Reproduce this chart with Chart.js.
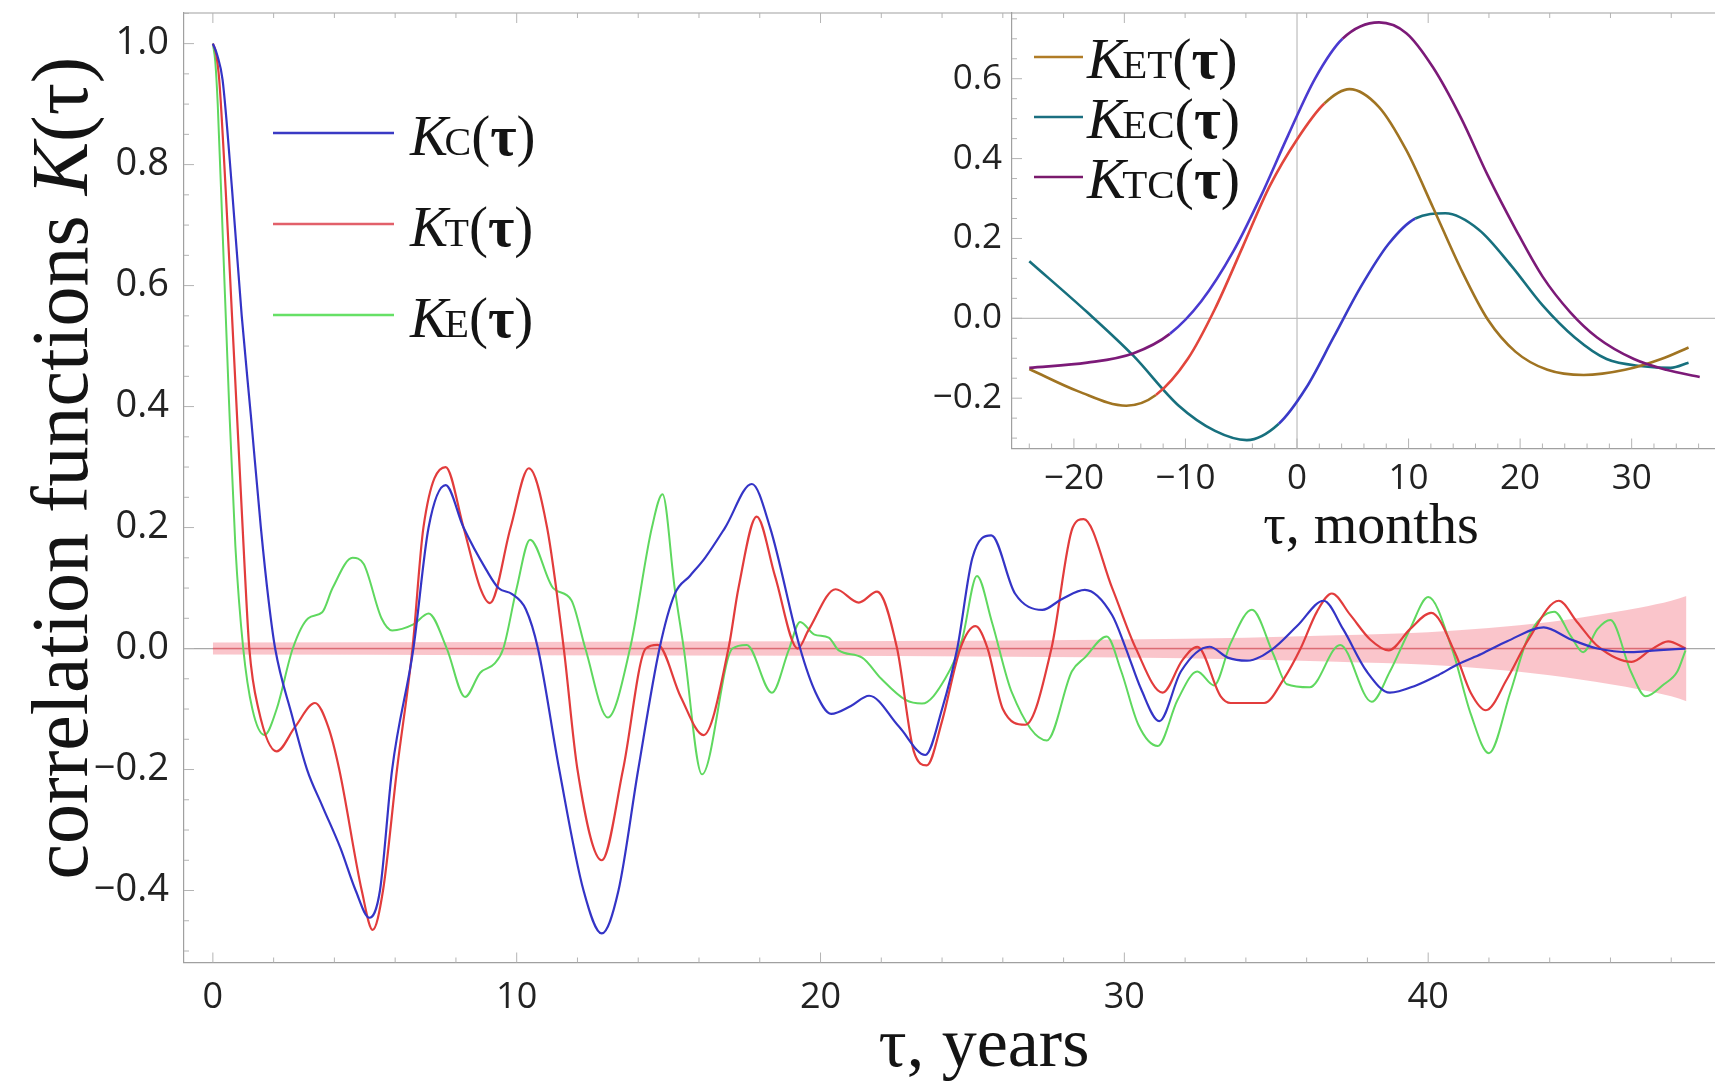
<!DOCTYPE html>
<html>
<head>
<meta charset="utf-8">
<script src="https://cdn.jsdelivr.net/npm/chart.js@4.4.1/dist/chart.umd.min.js"></script>
<style>
  html, body { margin: 0; padding: 0; background: #fff; }
  #wrap { position: relative; width: 1715px; height: 1089px; overflow: hidden; }
  #main { position: absolute; left: 0; top: 0; }
  #inset { position: absolute; left: 900px; top: 0; }
</style>
</head>
<body>
<div id="wrap">
  <canvas id="main" width="1715" height="1089"></canvas>
  <canvas id="inset" width="815" height="560"></canvas>
</div>
<script>
// -----------------------------------
// Main plot: [tau in years, K(tau)]
const curveC = [[0,1.0],[0.15,0.98],[0.32,0.94],[0.63,0.76],[0.95,0.55],[1.26,0.38],[1.58,0.2],[1.84,0.077],[2.05,0],[2.6,-0.11],[3.1,-0.2],[3.6,-0.26],[4.2,-0.33],[4.7,-0.4],[5.15,-0.445],[5.5,-0.4],[5.9,-0.2],[6.6,0],[7.1,0.2],[7.66,0.27],[8.25,0.2],[9.0,0.13],[9.4,0.1],[9.85,0.09],[10.3,0.065],[10.7,0],[11.4,-0.2],[12.2,-0.4],[12.8,-0.471],[13.35,-0.4],[14.0,-0.2],[14.7,0],[15.2,0.09],[15.7,0.12],[16.2,0.15],[16.86,0.2],[17.74,0.272],[18.34,0.2],[19.33,0],[19.84,-0.073],[20.35,-0.108],[21.0,-0.095],[21.6,-0.078],[22.58,-0.129],[23.45,-0.176],[24.0,-0.1],[24.5,0],[25.0,0.15],[25.62,0.187],[26.4,0.091],[27.3,0.064],[27.95,0.082],[28.7,0.097],[29.6,0.055],[30.05,0],[30.55,-0.067],[31.15,-0.12],[31.86,-0.038],[32.8,0.003],[33.4,-0.015],[34.04,-0.02],[34.9,0],[35.7,0.038],[36.56,0.079],[37.2,0.032],[37.98,-0.038],[38.74,-0.073],[39.6,-0.061],[40.33,-0.044],[40.98,-0.026],[41.75,-0.009],[42.6,0.012],[43.8,0.035],[44.7,0.015],[45.57,0],[46.67,-0.006],[47.5,-0.003],[48.47,0]];

const curveT = [[0,1.0],[0.1,0.985],[0.21,0.94],[0.42,0.76],[0.63,0.55],[0.84,0.34],[1.05,0.13],[1.2,0],[1.5,-0.1],[2.1,-0.17],[2.7,-0.13],[3.36,-0.09],[3.8,-0.13],[4.16,-0.2],[4.9,-0.4],[5.26,-0.465],[5.6,-0.4],[6.06,-0.2],[6.57,0],[6.93,0.2],[7.66,0.3],[8.25,0.2],[8.8,0.1],[9.12,0.075],[9.8,0.2],[10.4,0.298],[11.0,0.2],[11.55,0],[12.0,-0.2],[12.8,-0.35],[13.5,-0.2],[14.25,0],[14.64,0.006],[15.4,-0.08],[16.15,-0.143],[16.97,0],[17.3,0.1],[17.9,0.218],[18.5,0.12],[19.25,0],[19.6,0.03],[20.5,0.098],[21.26,0.076],[21.86,0.094],[22.52,0],[23.07,-0.17],[23.5,-0.193],[24.0,-0.12],[24.6,0],[25.1,0.037],[25.5,0],[26.0,-0.1],[26.74,-0.126],[27.6,0],[28.3,0.2],[28.66,0.214],[29.6,0.1],[30.38,0],[31.26,-0.073],[31.9,-0.02],[32.4,0.003],[33.17,-0.079],[33.5,-0.09],[34.6,-0.09],[35.25,-0.05],[35.8,0],[36.34,0.061],[36.83,0.091],[37.43,0.056],[38.09,0.015],[38.7,-0.003],[39.4,0.032],[40.1,0.059],[40.9,-0.009],[41.4,-0.073],[41.9,-0.102],[42.6,-0.05],[43.3,0.015],[44.3,0.079],[44.9,0.044],[45.6,0.003],[46.7,-0.022],[47.3,-0.003],[47.9,0.012],[48.47,0]];

const curveE = [[0,1.0],[0.08,0.97],[0.16,0.9],[0.32,0.69],[0.53,0.41],[0.74,0.17],[1.0,0],[1.3,-0.1],[1.7,-0.143],[2.1,-0.1],[2.63,0],[3.14,0.05],[3.6,0.06],[3.94,0.1],[4.6,0.15],[4.96,0.14],[5.55,0.05],[5.9,0.03],[6.6,0.04],[7.1,0.058],[7.7,0],[8.3,-0.08],[8.8,-0.04],[9.27,-0.025],[9.56,0],[10.0,0.1],[10.44,0.18],[11.2,0.1],[11.8,0.08],[12.26,0],[13.0,-0.114],[13.73,0],[14.45,0.2],[14.8,0.255],[15.2,0.1],[15.5,0],[16.1,-0.208],[17.1,0],[17.57,0.006],[18.4,-0.073],[18.95,-0.003],[19.33,0.044],[19.8,0.023],[20.27,0.018],[20.6,-0.003],[21.37,-0.015],[22.0,-0.05],[22.8,-0.085],[23.34,-0.091],[24.1,-0.05],[24.66,0.015],[25.15,0.12],[25.64,0.044],[26.3,-0.073],[27.45,-0.152],[28.27,-0.038],[28.7,-0.015],[29.42,0.02],[29.9,-0.038],[30.46,-0.126],[31.1,-0.161],[31.75,-0.085],[32.4,-0.038],[32.95,-0.061],[33.5,0.009],[34.2,0.064],[34.9,-0.009],[35.35,-0.059],[36.1,-0.064],[37.1,0.006],[38.14,-0.088],[38.74,-0.038],[39.4,0.032],[40.0,0.085],[40.8,-0.003],[41.4,-0.108],[42.0,-0.173],[42.7,-0.073],[43.3,0.02],[44.15,0.061],[44.7,0.02],[45.1,-0.006],[45.57,0.032],[46.0,0.047],[46.67,-0.038],[47.16,-0.079],[47.76,-0.059],[48.2,-0.038],[48.47,-0.003]];

// confidence band round zero: [tau, half width]
const band = [[0,0.010],[10,0.011],[20,0.012],[25,0.013],[30,0.015],[34,0.018],[37,0.022],[40,0.027],[42,0.034],[44,0.044],[45,0.051],[46,0.059],[47,0.068],[48,0.079],[48.5,0.087]];

const mainXTicks = [0, 10, 20, 30, 40];
const mainYTicks = [-0.4, -0.2, 0, 0.2, 0.4, 0.6, 0.8, 1.0];
const mainLabels = ["C", "T", "E"];

// -----------------------------------
// Inset: [tau in months, K(tau)]
const curveET = [[-24,-0.127],[-19.6,-0.183],[-15.3,-0.219],[-12.65,-0.192],[-9.8,-0.102],[-7.35,0.024],[-4.9,0.177],[-2.45,0.331],[0,0.448],[2.45,0.538],[4.7,0.574],[7.35,0.529],[9.8,0.421],[12.2,0.277],[14.7,0.123],[17.1,-0.003],[19.6,-0.084],[22.45,-0.129],[25.7,-0.142],[29.4,-0.129],[32.65,-0.102],[35.1,-0.073]];
const curveEC = [[-24,0.143],[-18.8,0.015],[-14.7,-0.093],[-10.6,-0.219],[-7.35,-0.282],[-4.5,-0.305],[-1.63,-0.264],[0.82,-0.174],[3.27,-0.048],[5.7,0.078],[8.2,0.186],[10.6,0.25],[13.3,0.263],[16.3,0.222],[19.2,0.132],[22.0,0.033],[24.9,-0.048],[27.75,-0.102],[31.0,-0.12],[33.5,-0.124],[35.1,-0.111]];
const curveTC = [[-24,-0.124],[-18.8,-0.111],[-14.7,-0.088],[-11.4,-0.039],[-8.6,0.042],[-5.7,0.168],[-3.27,0.304],[-0.82,0.457],[1.63,0.601],[4.08,0.7],[7.35,0.741],[9.8,0.714],[12.2,0.628],[14.7,0.502],[17.1,0.358],[19.6,0.223],[22.0,0.105],[24.5,0.015],[26.9,-0.048],[30.2,-0.102],[33.1,-0.129],[36.1,-0.147]];

const insetXTicks = [-20, -10, 0, 10, 20, 30];
const insetYTicks = [-0.2, 0, 0.2, 0.4, 0.6];
const insetLabels = ["ET", "EC", "TC"];

// -----------------------------------
const SERIF = '"Liberation Serif", "DejaVu Serif", serif';
const SANS = '"Open Sans", "DejaVu Sans", sans-serif';

function pts(arr) {
  return arr.map((p) => ({ x: p[0], y: p[1] }));
}
function fmt(v) {
  return v.toFixed(1).replace("-", "\u2212");
}
function fmtInt(v) {
  return String(v).replace("-", "\u2212");
}
// fixed axis box, no extra padding for the end labels
function fixBox(w, h) {
  return (s) => {
    if (w) s.width = w;
    if (h) s.height = h;
    s.paddingTop = 0;
    s.paddingBottom = 0;
    s.paddingLeft = 0;
    s.paddingRight = 0;
  };
}

// K with upright small subscript letters, then (τ)
function drawK(ctx, x, y, sub, size) {
  ctx.textAlign = "left";
  ctx.textBaseline = "alphabetic";
  ctx.fillStyle = "#141414";
  ctx.font = "italic " + size + "px " + SERIF;
  ctx.fillText("K", x, y);
  x += ctx.measureText("K").width - size * 0.06;
  ctx.font = Math.round(size * 0.7) + "px " + SERIF;
  ctx.fillText(sub, x, y);
  x += ctx.measureText(sub).width;
  ctx.font = size + "px " + SERIF;
  ctx.fillText("(", x, y);
  x += ctx.measureText("(").width;
  ctx.font = "bold " + size + "px " + SERIF;
  ctx.fillText("\u03c4", x, y);
  x += ctx.measureText("\u03c4").width;
  ctx.font = size + "px " + SERIF;
  ctx.fillText(")", x, y);
}

// inward frame ticks
function drawTicks(ctx, scale, area, side, major, minorStep, from, to) {
  ctx.save();
  ctx.strokeStyle = "#b4b4b4";
  ctx.lineWidth = 1;
  ctx.beginPath();
  for (let v = from; v <= to + 1e-9; v += minorStep) {
    let isMajor = major.some((m) => Math.abs(m - v) < 1e-6);
    let len = isMajor ? 10 : 5;
    let p = scale.getPixelForValue(v);
    if (side === "left") { ctx.moveTo(area.left, p); ctx.lineTo(area.left + len, p); }
    if (side === "bottom") { ctx.moveTo(p, area.bottom); ctx.lineTo(p, area.bottom - len); }
    if (side === "top") { ctx.moveTo(p, area.top); ctx.lineTo(p, area.top + len); }
  }
  ctx.stroke();
  ctx.restore();
}

// -----------------------------------
// Main chart
const mainDecor = {
  id: "mainDecor",
  beforeDatasetsDraw(chart) {
    let ctx = chart.ctx;
    let a = chart.chartArea;
    let y0 = chart.scales.y.getPixelForValue(0);
    ctx.save();
    ctx.strokeStyle = "#a8a8a8";
    ctx.lineWidth = 1.2;
    ctx.beginPath();
    ctx.moveTo(a.left, y0);
    ctx.lineTo(a.right, y0);
    ctx.stroke();
    ctx.restore();
  },
  afterDraw(chart) {
    let ctx = chart.ctx;
    let a = chart.chartArea;
    let sx = chart.scales.x;
    let sy = chart.scales.y;
    // top frame line
    ctx.save();
    ctx.strokeStyle = "#a0a0a0";
    ctx.lineWidth = 1.2;
    ctx.beginPath();
    ctx.moveTo(a.left, a.top);
    ctx.lineTo(a.right, a.top);
    ctx.stroke();
    ctx.restore();
    drawTicks(ctx, sy, a, "left", mainYTicks, 0.05, -0.5, 1.05);
    drawTicks(ctx, sx, a, "bottom", mainXTicks, 2, 0, 48);
    drawTicks(ctx, sx, a, "top", mainXTicks, 2, 0, 48);

    // legend
    let colors = ["#3a3ac4", "#e2606a", "#66e066"];
    let ys = [133, 224, 315];
    for (let i = 0; i < mainLabels.length; i++) {
      ctx.save();
      ctx.strokeStyle = colors[i];
      ctx.lineWidth = 2.4;
      ctx.beginPath();
      ctx.moveTo(273, ys[i]);
      ctx.lineTo(394, ys[i]);
      ctx.stroke();
      ctx.restore();
      drawK(ctx, 410, ys[i] + 22, mainLabels[i], 57);
    }

    // axis titles
    ctx.save();
    ctx.fillStyle = "#141414";
    ctx.textBaseline = "alphabetic";
    ctx.textAlign = "center";
    ctx.font = "70px " + SERIF;
    ctx.fillText("\u03c4, years", 984, 1066);
    ctx.restore();

    ctx.save();
    ctx.translate(87, 468);
    ctx.rotate(-Math.PI / 2);
    ctx.fillStyle = "#141414";
    ctx.textBaseline = "alphabetic";
    ctx.textAlign = "left";
    let size = 80;
    let parts = [
      ["correlation functions ", size + "px " + SERIF],
      ["K", "italic " + size + "px " + SERIF],
      ["(\u03c4)", size + "px " + SERIF],
    ];
    let total = 0;
    parts.forEach((p) => { ctx.font = p[1]; total += ctx.measureText(p[0]).width; });
    let x = -total / 2;
    parts.forEach((p) => { ctx.font = p[1]; ctx.fillText(p[0], x, 0); x += ctx.measureText(p[0]).width; });
    ctx.restore();
  },
};

new Chart(document.getElementById("main"), {
  type: "line",
  data: {
    datasets: [
      { data: pts(curveC), borderColor: "#3434c6", borderWidth: 2.2 },
      { data: pts(curveT), borderColor: "#e23c3c", borderWidth: 2.2 },
      { data: pts(curveE), borderColor: "#5fd85f", borderWidth: 2.0 },
      { data: band.map((p) => ({ x: p[0], y: 0 })), borderColor: "rgba(222,90,100,0.75)", borderWidth: 1.5 },
      { data: band.map((p) => ({ x: p[0], y: p[1] })), borderColor: "rgba(0,0,0,0)", borderWidth: 0, fill: false },
      { data: band.map((p) => ({ x: p[0], y: -p[1] })), borderColor: "rgba(0,0,0,0)", borderWidth: 0, fill: "-1", backgroundColor: "rgba(246,150,160,0.55)" },
    ],
  },
  options: {
    responsive: false,
    devicePixelRatio: 1,
    animation: false,
    layout: { padding: { top: 13, right: 0, left: 0, bottom: 0 } },
    elements: { point: { radius: 0 }, line: { cubicInterpolationMode: "monotone" } },
    plugins: { legend: { display: false }, tooltip: { enabled: false } },
    scales: {
      x: {
        type: "linear",
        min: -0.95,
        max: 49.44,
        grid: { display: false, drawTicks: false },
        border: { display: true, color: "#a0a0a0", width: 1.2 },
        afterBuildTicks: (s) => { s.ticks = mainXTicks.map((v) => ({ value: v })); },
        afterFit: fixBox(0, 126.5),
        ticks: { font: { family: SANS, size: 36 }, color: "#222", padding: 14, maxRotation: 0, callback: (v) => fmtInt(v) },
      },
      y: {
        min: -0.519,
        max: 1.0506,
        grid: { display: false, drawTicks: false },
        border: { display: true, color: "#a0a0a0", width: 1.2 },
        afterBuildTicks: (s) => { s.ticks = mainYTicks.map((v) => ({ value: v })); },
        afterFit: fixBox(184, 0),
        ticks: { font: { family: SANS, size: 38 }, color: "#222", padding: 15, callback: (v) => fmt(v) },
      },
    },
  },
  plugins: [mainDecor],
});

// -----------------------------------
// Inset chart: steep rises take the "rising" colour
function slopeColor(up, down) {
  return (c) => ((c.p1.parsed.y - c.p0.parsed.y) / (c.p1.parsed.x - c.p0.parsed.x) > 0.02 ? up : down);
}

const insetDecor = {
  id: "insetDecor",
  beforeDatasetsDraw(chart) {
    let ctx = chart.ctx;
    let a = chart.chartArea;
    let x0 = chart.scales.x.getPixelForValue(0);
    let y0 = chart.scales.y.getPixelForValue(0);
    ctx.save();
    ctx.strokeStyle = "#bdbdbd";
    ctx.lineWidth = 1.2;
    ctx.beginPath();
    ctx.moveTo(a.left, y0);
    ctx.lineTo(a.right, y0);
    ctx.moveTo(x0, a.top);
    ctx.lineTo(x0, a.bottom);
    ctx.stroke();
    ctx.restore();
  },
  afterDraw(chart) {
    let ctx = chart.ctx;
    let a = chart.chartArea;
    drawTicks(ctx, chart.scales.y, a, "left", insetYTicks, 0.05, -0.3, 0.75);
    drawTicks(ctx, chart.scales.x, a, "bottom", insetXTicks, 2, -24, 36);

    let colors = ["#b07c26", "#1b6f80", "#7a1a6c"];
    let ys = [57, 117, 177];
    for (let i = 0; i < insetLabels.length; i++) {
      ctx.save();
      ctx.strokeStyle = colors[i];
      ctx.lineWidth = 2.6;
      ctx.beginPath();
      ctx.moveTo(134, ys[i]);
      ctx.lineTo(183, ys[i]);
      ctx.stroke();
      ctx.restore();
      drawK(ctx, 187, ys[i] + 21, insetLabels[i], 58);
    }

    ctx.save();
    ctx.fillStyle = "#141414";
    ctx.textBaseline = "alphabetic";
    ctx.textAlign = "center";
    ctx.font = "56px " + SERIF;
    ctx.fillText("\u03c4, months", 471, 543);
    ctx.restore();
  },
};

new Chart(document.getElementById("inset"), {
  type: "line",
  data: {
    datasets: [
      { data: pts(curveTC), borderWidth: 2.6, segment: { borderColor: slopeColor("#4a3ad0", "#7c1a78") }, borderColor: "#7c1a78" },
      { data: pts(curveET), borderWidth: 2.6, segment: { borderColor: slopeColor("#e2463c", "#a07422") }, borderColor: "#a07422" },
      { data: pts(curveEC), borderWidth: 2.6, segment: { borderColor: slopeColor("#3a3ac8", "#17707e") }, borderColor: "#17707e" },
    ],
  },
  options: {
    responsive: false,
    devicePixelRatio: 1,
    animation: false,
    layout: { padding: { top: 13, right: 0, left: 0, bottom: 0 } },
    elements: { point: { radius: 0 }, line: { cubicInterpolationMode: "monotone" } },
    plugins: { legend: { display: false }, tooltip: { enabled: false } },
    scales: {
      x: {
        type: "linear",
        min: -25.55,
        max: 37.47,
        grid: { display: false, drawTicks: false },
        border: { display: true, color: "#a0a0a0", width: 1.2 },
        afterBuildTicks: (s) => { s.ticks = insetXTicks.map((v) => ({ value: v })); },
        afterFit: fixBox(0, 111.5),
        ticks: { font: { family: SANS, size: 35 }, color: "#222", padding: 10, maxRotation: 0, callback: (v) => fmtInt(v) },
      },
      y: {
        min: -0.326,
        max: 0.7646,
        grid: { display: false, drawTicks: false },
        border: { display: true, color: "#a0a0a0", width: 1.2 },
        afterBuildTicks: (s) => { s.ticks = insetYTicks.map((v) => ({ value: v })); },
        afterFit: fixBox(112, 0),
        ticks: { font: { family: SANS, size: 35 }, color: "#222", padding: 10, callback: (v) => fmt(v) },
      },
    },
  },
  plugins: [insetDecor],
});
</script>
</body>
</html>
